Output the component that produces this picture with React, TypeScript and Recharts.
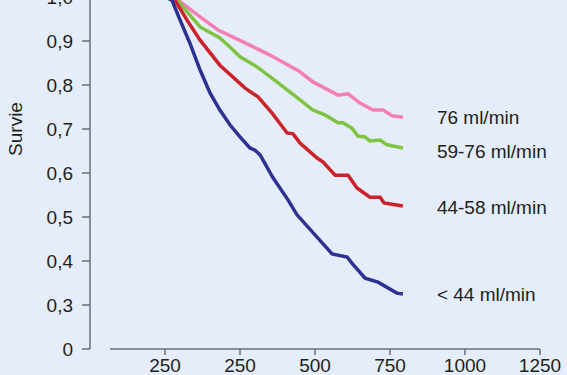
import React from "react";
import { LineChart, Line, XAxis, YAxis, Label } from "recharts";

// survival (days -> proportion)
const PINK_DAYS = [0, 43, 117, 177, 260, 350, 450, 493, 577, 610, 650, 693, 727, 757, 793];
const PINK_SURV = [1.0, 0.993, 0.955, 0.925, 0.898, 0.868, 0.83, 0.807, 0.777, 0.78, 0.759, 0.743, 0.743, 0.73, 0.727];

const GREEN_DAYS = [0, 40, 117, 183, 217, 250, 307, 373, 450, 493, 533, 577, 593, 623, 643, 667, 683, 717, 740, 793];
const GREEN_SURV = [1.0, 0.993, 0.932, 0.907, 0.886, 0.864, 0.841, 0.807, 0.766, 0.743, 0.732, 0.714, 0.714, 0.702, 0.684, 0.682, 0.673, 0.675, 0.664, 0.657];

const RED_DAYS = [0, 33, 73, 117, 183, 267, 310, 357, 407, 427, 450, 507, 527, 567, 610, 640, 683, 717, 730, 793];
const RED_SURV = [1.0, 0.993, 0.948, 0.902, 0.845, 0.793, 0.773, 0.736, 0.691, 0.689, 0.668, 0.634, 0.625, 0.595, 0.595, 0.566, 0.545, 0.545, 0.532, 0.525];

const BLUE_DAYS = [0, 23, 50, 83, 117, 150, 183, 217, 250, 283, 300, 317, 360, 410, 440, 557, 607, 623, 667, 710, 773, 793];
const BLUE_SURV = [1.0, 0.993, 0.948, 0.895, 0.834, 0.782, 0.743, 0.709, 0.682, 0.657, 0.652, 0.641, 0.589, 0.539, 0.505, 0.416, 0.409, 0.395, 0.361, 0.352, 0.327, 0.325];

const SERIES_NAMES = ["76 ml/min", "59-76 ml/min", "44-58 ml/min", "< 44 ml/min"];
const COLORS = ["#f47fb5", "#80c342", "#cc2229", "#2e3192"];

const X_TICKS = [0, 250, 500, 750, 1000, 1250];
const X_TICK_LABELS = ["250", "250", "500", "750", "1000", "1250"];
const Y_TICKS = [0.2, 0.3, 0.4, 0.5, 0.6, 0.7, 0.8, 0.9, 1.0];
const Y_TICK_LABELS = ["0", "0,3", "0,4", "0,5", "0,6", "0,7", "0,8", "0,9", "1,0"];

const toRows = (days: number[], surv: number[]) => days.map((d, i) => ({ day: d, surv: surv[i] }));
const series = [
  toRows(PINK_DAYS, PINK_SURV),
  toRows(GREEN_DAYS, GREEN_SURV),
  toRows(RED_DAYS, RED_SURV),
  toRows(BLUE_DAYS, BLUE_SURV),
];
const LABEL_DY = [0, 4, 1, 0];

const FONT = "'Liberation Sans', Arial, sans-serif";
const FS = 19;
const TEXT = "#231f20";

export default function App() {
  return (
    <div style={{ position: "absolute", left: 0, top: 0, width: 567, height: 375, background: "#e4edf9" }}>
      <LineChart width={567} height={375} margin={{ top: -3, right: 27, bottom: 0, left: 0 }}>
        <XAxis
          dataKey="day"
          type="number"
          domain={[-250, 1250]}
          ticks={X_TICKS}
          tickFormatter={(v: number) => X_TICK_LABELS[X_TICKS.indexOf(v)]}
          allowDuplicatedCategory
          height={26}
          tickSize={6}
          tickMargin={4}
          axisLine={{ stroke: "#6d6e71", strokeWidth: 1.5, strokeDasharray: "0 20 600" }}
          tickLine={{ stroke: "#6d6e71", strokeWidth: 1.5 }}
          tick={{ fill: TEXT, fontSize: FS, fontFamily: FONT }}
        />
        <YAxis
          type="number"
          domain={[0.2, 1.0]}
          ticks={Y_TICKS}
          tickFormatter={(v: number) => Y_TICK_LABELS[Y_TICKS.findIndex((t) => Math.abs(t - v) < 1e-6)]}
          width={90}
          tickSize={8}
          tickMargin={9}
          interval={0}
          axisLine={{ stroke: "#6d6e71", strokeWidth: 1.5 }}
          tickLine={{ stroke: "#6d6e71", strokeWidth: 1.5 }}
          tick={{ fill: TEXT, fontSize: FS, fontFamily: FONT }}
        >
          <Label
            content={() => (
              <text
                x={15}
                y={129}
                transform="rotate(-90 15 129)"
                textAnchor="middle"
                dominantBaseline="central"
                fill={TEXT}
                fontSize={FS}
                fontFamily={FONT}
              >
                Survie
              </text>
            )}
          />
        </YAxis>
        {series.map((rows, i) => (
          <Line
            key={SERIES_NAMES[i]}
            data={rows}
            dataKey="surv"
            type="linear"
            stroke={COLORS[i]}
            strokeWidth={3.5}
            dot={false}
            isAnimationActive={false}
            label={(p: any) =>
              p.index === rows.length - 1 ? (
                <text
                  key={`lbl-${i}`}
                  x={p.x + 34}
                  y={p.y + LABEL_DY[i]}
                  dominantBaseline="central"
                  fill={TEXT}
                  fontSize={FS}
                  fontFamily={FONT}
                >
                  {SERIES_NAMES[i]}
                </text>
              ) : (
                <g key={`lbl-${i}-${p.index}`} />
              )
            }
          />
        ))}
      </LineChart>
    </div>
  );
}
